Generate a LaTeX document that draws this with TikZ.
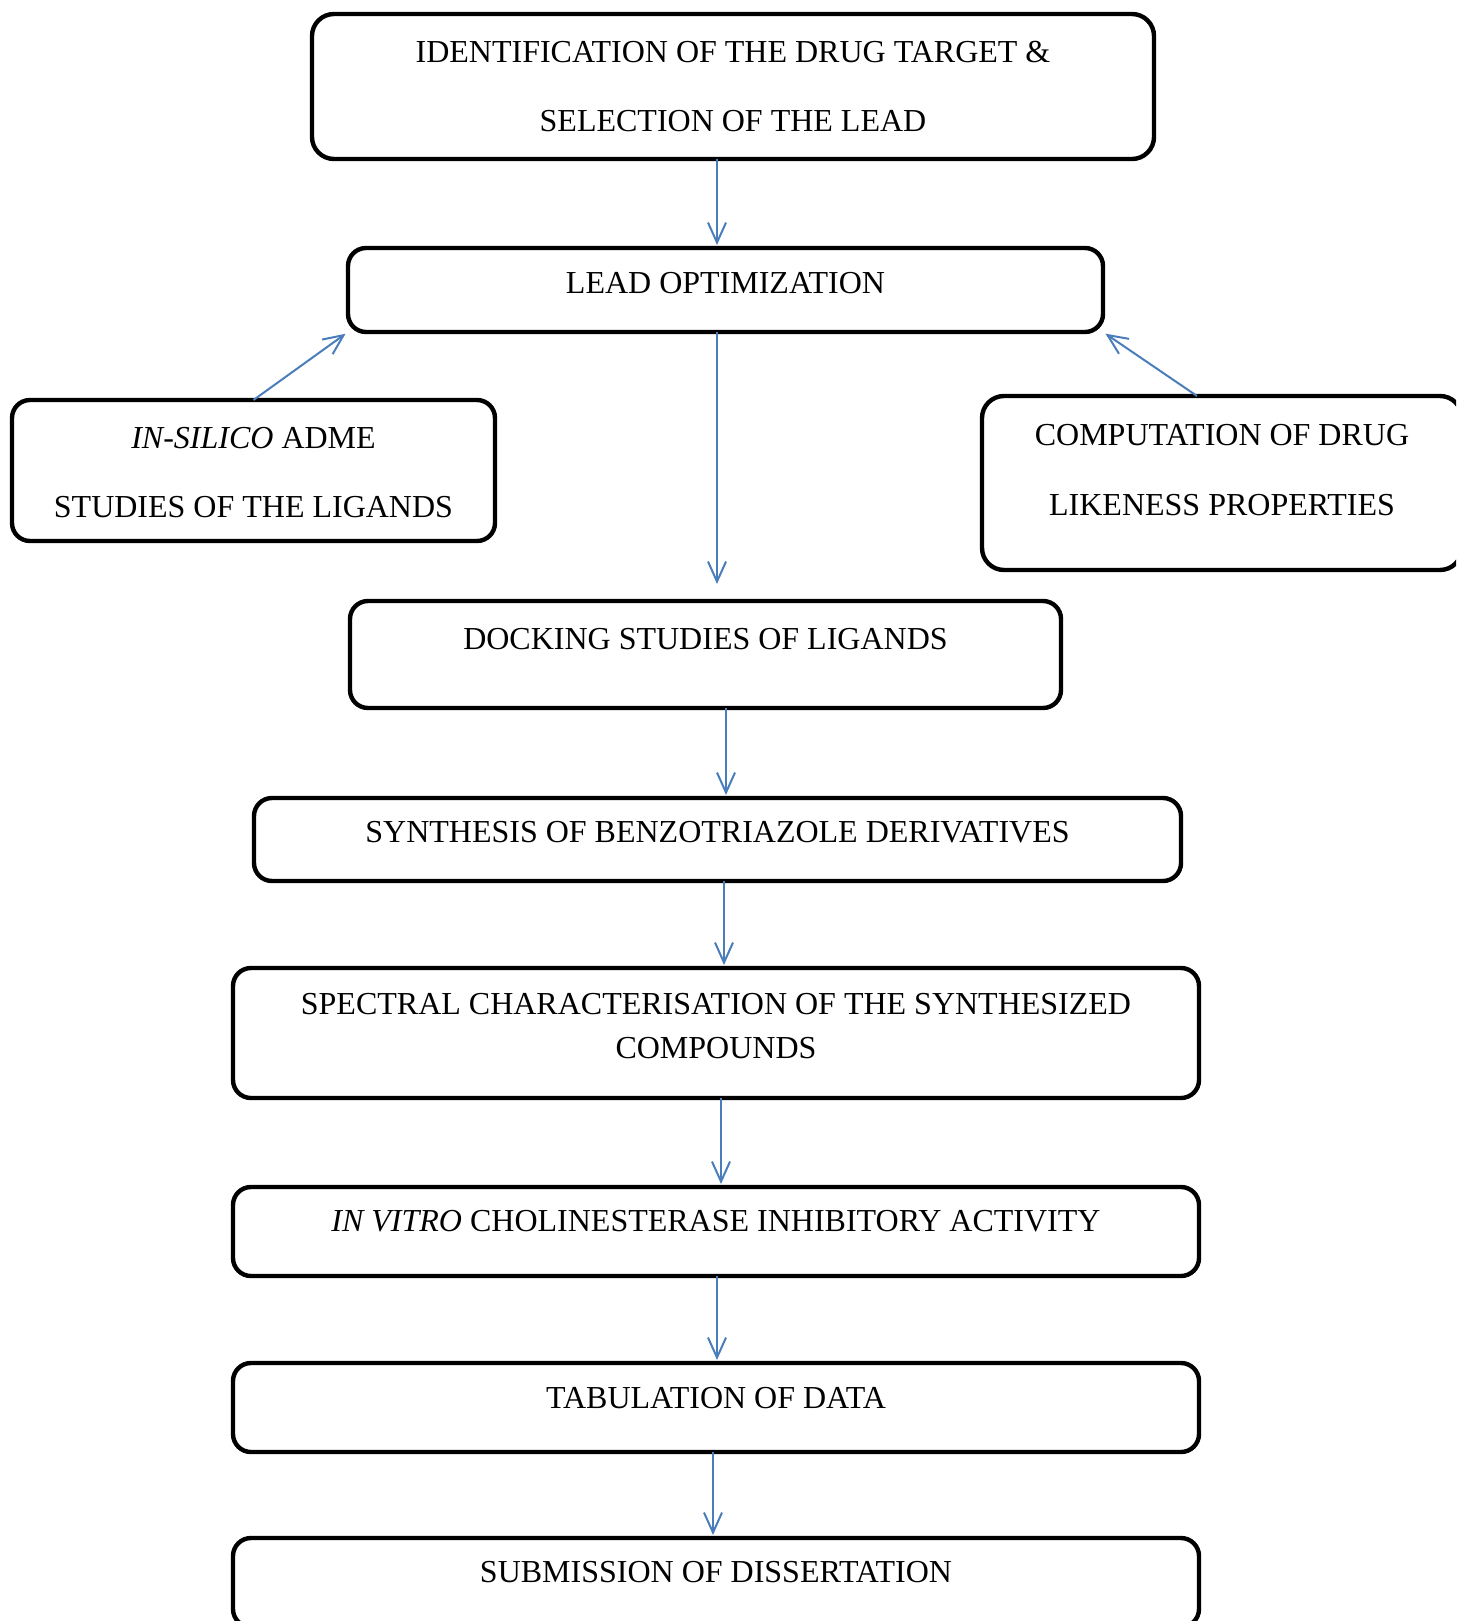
\documentclass[tikz,border=0pt]{standalone}
\usepackage{fontspec}
\setmainfont{Liberation Serif}
\usetikzlibrary{shapes,arrows.meta,positioning}
\definecolor{arrowblue}{RGB}{74,126,187}

\begin{document}
\begin{tikzpicture}[node distance=44pt, auto, font=\fontsize{16}{19}\selectfont]
    % Define block styles
    \tikzstyle{block} = [rectangle, draw, line width=2.2pt, rounded corners=9pt, inner sep=0pt, outer sep=0pt, align=center]
    \tikzstyle{line} = [draw, line width=1pt, arrowblue, shorten >=1.5pt, -{Straight Barb[length=10pt,width=9pt]}]

    \useasboundingbox (0,0) rectangle (728pt,-810.5pt);
    \clip (0,0) rectangle (728pt,-810.5pt);

    % Nodes
    \node [block, minimum width=421pt, text height=58.75pt, text depth=13.75pt, rounded corners=11pt] (Drug_Target) at (366.5pt,-43.25pt) {IDENTIFICATION OF THE DRUG TARGET \&\\[15.5pt]SELECTION OF THE LEAD};
    \node [block, minimum width=377.5pt, text height=22.75pt, text depth=19.25pt, below=44.5pt of Drug_Target, xshift=-3.75pt] (Lead_Optimization) {LEAD OPTIMIZATION};
    \node [block, minimum width=241.5pt, text height=58.75pt, text depth=11.75pt] (ADME_Studies) at (126.75pt,-235.25pt) {\textit{IN-SILICO} ADME\\[15.5pt]STUDIES OF THE LIGANDS};
    \node [block, minimum width=240pt, text height=59.75pt, text depth=27.25pt, rounded corners=11pt] (Drug_Likeness) at (611pt,-241.5pt) {COMPUTATION OF DRUG\\[16pt]LIKENESS PROPERTIES};
    \node [block, minimum width=355.5pt, text height=24.25pt, text depth=29.25pt, below=134.5pt of Lead_Optimization, xshift=-10pt] (Docking_Studies) {DOCKING STUDIES OF LIGANDS};
    \node [block, minimum width=463.5pt, text height=22.25pt, text depth=19.25pt, below=45pt of Docking_Studies, xshift=6pt] (Synthesis) {SYNTHESIS OF BENZOTRIAZOLE DERIVATIVES};
    \node [block, minimum width=483pt, text height=45.25pt, text depth=19.75pt, below=43.5pt of Synthesis, xshift=-0.75pt] (Spectral_Data) {SPECTRAL CHARACTERISATION OF THE SYNTHESIZED\\[3pt]COMPOUNDS};
    \node [block, minimum width=483pt, text height=22.25pt, text depth=22.25pt, below=44.5pt of Spectral_Data] (In_Vitro_Activity) {\textit{IN VITRO} CHOLINESTERASE INHIBITORY ACTIVITY};
    \node [block, minimum width=483pt, text height=22.75pt, text depth=21.75pt, below=43.5pt of In_Vitro_Activity] (Tabulation) {TABULATION OF DATA};
    \node [block, minimum width=483pt, text height=22.25pt, text depth=22.25pt, below=43pt of Tabulation] (Submission) {SUBMISSION OF DISSERTATION};

    % Arrows
    \path [line] ([xshift=-8pt]Drug_Target.south) -- ([xshift=-8pt]Drug_Target.south |- Lead_Optimization.north);
    \path [line] (ADME_Studies.north) -- (Lead_Optimization.south west);
    \path [line] ([xshift=-12.5pt]Drug_Likeness.north) -- (Lead_Optimization.south east);
    \path [line, shorten >=8.5pt] ([xshift=-4.25pt]Lead_Optimization.south) -- ([xshift=-4.25pt]Lead_Optimization.south |- Docking_Studies.north);
    \path [line] ([xshift=10.25pt]Docking_Studies.south) -- ([xshift=10.25pt]Docking_Studies.south |- Synthesis.north);
    \path [line] ([xshift=3.25pt]Synthesis.south) -- ([xshift=3.25pt]Synthesis.south |- Spectral_Data.north);
    \path [line] ([xshift=2.5pt]Spectral_Data.south) -- ([xshift=2.5pt]Spectral_Data.south |- In_Vitro_Activity.north);
    \path [line] ([xshift=0.5pt]In_Vitro_Activity.south) -- ([xshift=0.5pt]In_Vitro_Activity.south |- Tabulation.north);
    \path [line] ([xshift=-1.5pt]Tabulation.south) -- ([xshift=-1.5pt]Tabulation.south |- Submission.north);

  \end{tikzpicture}
\end{document}
